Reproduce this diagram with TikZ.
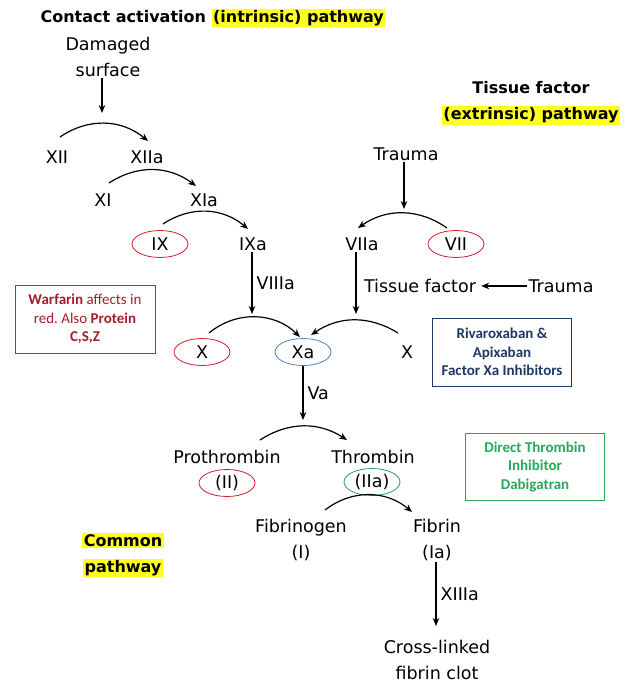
\documentclass[tikz,border=0pt]{standalone}
\usepackage{fontspec}
\setmainfont{DejaVu Sans}
\newfontfamily\boxfont{Carlito}
\usetikzlibrary{arrows.meta,positioning,shapes.geometric}
\definecolor{warn}{HTML}{D4202C}
\definecolor{xablue}{HTML}{4F81BD}
\definecolor{thgreen}{HTML}{2E9E5E}
\definecolor{warftext}{HTML}{A31D2B}
\definecolor{navy}{HTML}{1F3864}
\definecolor{drugreen}{HTML}{28A65A}
\definecolor{marker}{HTML}{FFFF20}
\newcommand\hilite[1]{{\setlength\fboxsep{1.5pt}\colorbox{marker}{#1}}}

\begin{document}
\begin{tikzpicture}[x=1pt,y=-1pt,
  fac/.style={font=\fontsize{17.5}{26}\selectfont,align=center,inner sep=1pt},
  head/.style={font=\bfseries\fontsize{16}{26}\selectfont,align=center,inner sep=0pt},
  ring/.style={fac,ellipse,draw=#1,line width=0.8pt,minimum width=56pt,minimum height=27pt,inner sep=0pt},
  conv/.style={-{Stealth[length=8pt,width=6.5pt]},line width=1.2pt},
  drug/.style={draw=#1,text=#1,line width=0.9pt,font=\boxfont\fontsize{15}{18.5}\selectfont,
    align=center,inner sep=0pt,minimum width=140pt,minimum height=68pt}]
  \useasboundingbox (0,0) rectangle (630,686);
  % headings
  \node[head] (intr) at (213,18) {Contact activation \hilite{(intrinsic) pathway}};
  \node[head] (extr) at (531,103) {Tissue factor\\\hilite{(extrinsic) pathway}};
  \node[head] (comm) at (123,555) {\hilite{Common}\\\hilite{pathway}};
  % intrinsic side
  \node[fac] (dmg) at (108,57) {Damaged\\surface};
  \node[fac] (xii) at (57,157) {XII};
  \node[fac] (xiia) at (147,157) {XIIa};
  \node[fac] (xi) at (103,200) {XI};
  \node[fac] (xia) at (204,200) {XIa};
  \node[ring=warn] (ix) at (160,244) {IX};
  \node[fac] (ixa) at (253,244) {IXa};
  % extrinsic side
  \node[fac] (tr1) at (406,154) {Trauma};
  \node[fac] (viia) at (362,244) {VIIa};
  \node[ring=warn] (vii) at (456,244) {VII};
  \node[fac] (tf) at (420,286) {Tissue factor};
  \node[fac] (tr2) at (561,286) {Trauma};
  % common
  \node[ring=warn] (x) at (202,352) {X};
  \node[ring=xablue] (xa) at (303,352) {Xa};
  \node[fac] (xr) at (407,352) {X};
  \node[fac] (pro) at (227,457) {Prothrombin};
  \node[ring=warn] (ii) at (227,483) {(II)};
  \node[fac] (thr) at (373,457) {Thrombin};
  \node[ring=thgreen] (iia) at (372,482) {(IIa)};
  \node[fac] (fbg) at (301,540) {Fibrinogen\\(I)};
  \node[fac] (fbn) at (437,540) {Fibrin\\(Ia)};
  \node[fac] (clot) at (437,660) {Cross-linked\\fibrin clot};
  % drug boxes
  \node[drug=warn,text=warftext] (warf) at (85,319)
    {\textbf{Warfarin} affects in\\red.\ Also \textbf{Protein}\\\textbf{C,S,Z}};
  \node[drug=navy,minimum width=139pt] (riva) at (502,352)
    {\textbf{Rivaroxaban \&}\\\textbf{Apixaban}\\\textbf{Factor Xa Inhibitors}};
  \node[drug=drugreen,minimum width=139pt,minimum height=67pt] (dabi) at (535,467)
    {\textbf{Direct Thrombin}\\\textbf{Inhibitor}\\\textbf{Dabigatran}};
  % ends of the straight arrows
  \coordinate (d1) at (102,113);
  \coordinate (t1) at (404,209);
  \coordinate (j1) at (252,314);
  \coordinate (j2) at (356,314);
  \coordinate (j3) at (303,420);
  \coordinate (j4) at (436,626);
  \draw[conv] (dmg.south -| d1) -- (d1);
  \draw[conv] (tr1.south -| t1) -- (t1);
  \draw[conv] (ixa.south -| j1) -- (j1) node[fac,midway,right=3pt] (viiia) {VIIIa};
  \draw[conv] (viia.south -| j2) -- (j2);
  \draw[conv] (tr2.west) -- ([xshift=4pt]tf.east);
  \draw[conv] (xa.south) -- (j3) node[fac,midway,right=3pt] (va) {Va};
  \draw[conv] (fbn.south -| j4) -- (j4) node[fac,midway,right=3pt] (xiiia) {XIIIa};
  % conversion arcs
  \draw[conv] ([shift={(3,-20)}]xii.center) to[bend left=37] ([shift={(1,-16)}]xiia.center);
  \draw[conv] ([shift={(6,-17)}]xi.center) to[bend left=35] ([shift={(-8,-14)}]xia.center);
  \draw[conv] ([shift={(3,-20)}]ix.center) to[bend left=37] ([shift={(-5,-15)}]ixa.center);
  \draw[conv] ([shift={(-9,-16)}]vii.center) to[bend right=35] ([shift={(-4,-16)}]viia.center);
  \draw[conv] ([shift={(7,-19)}]x.center) to[bend left=42] ([shift={(-3,-15)}]xa.center);
  \draw[conv] ([shift={(-9,-19)}]xr.center) to[bend right=33] ([shift={(8,-17)}]xa.center);
  \draw[conv] ([shift={(33,-17)}]pro.center) to[bend left=33] ([shift={(-26,-17)}]thr.center);
  \draw[conv] ([shift={(24,-30)}]fbg.center) to[bend left=39] ([shift={(-25,-28)}]fbn.center);
\end{tikzpicture}
\end{document}
